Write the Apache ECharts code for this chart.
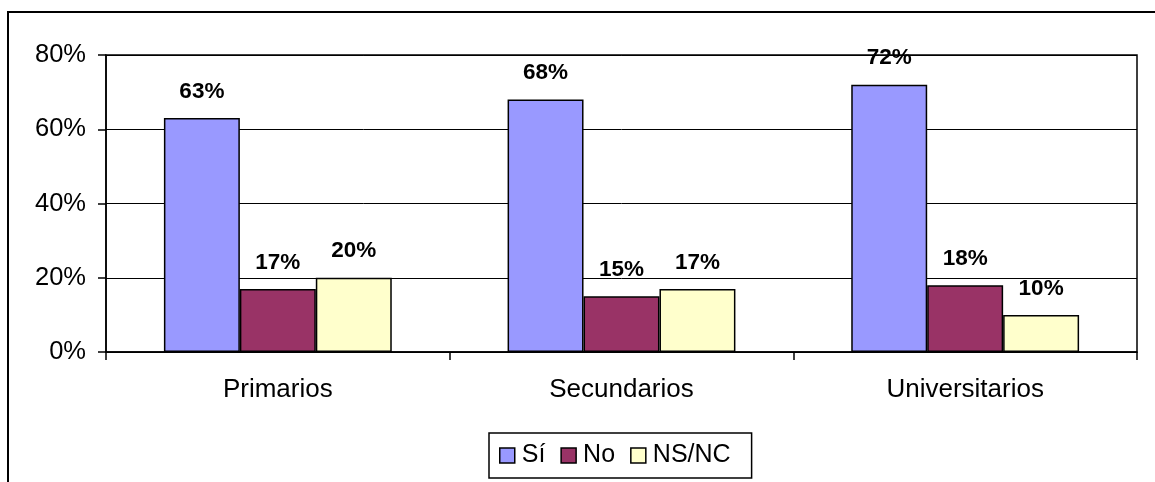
<!DOCTYPE html>
<html>
<head>
<meta charset="utf-8">
<script src="https://cdn.jsdelivr.net/npm/echarts@6/dist/echarts.min.js"></script>
<style>
  html, body { margin: 0; padding: 0; background: #fff; }
  #chart { width: 1155px; height: 482px; }
</style>
</head>
<body>
<div id="chart"></div>
<script>
// Education level categories and the answer shares (percent)
const categories = ['Primarios', 'Secundarios', 'Universitarios'];
const seriesNames = ['Sí', 'No', 'NS/NC'];
const siValues = [63, 68, 72];
const noValues = [17, 15, 18];
const nsncValues = [20, 17, 10];
const yTicks = [0, 20, 40, 60, 80];

const colors = ['#9999FF', '#993366', '#FFFFCC'];
const FONT = '"Liberation Sans", Arial, sans-serif';

const chart = echarts.init(document.getElementById('chart'), null, { renderer: 'canvas' });

function barSeries(name, data, color) {
  return {
    name: name,
    type: 'bar',
    data: data,
    barGap: '0%',
    barCategoryGap: '33.7%',
    itemStyle: { color: color, borderColor: '#000', borderWidth: 1.5 },
    label: {
      show: true,
      position: 'top',
      distance: 15,
      formatter: '{c}%',
      color: '#000',
      fontFamily: FONT,
      fontWeight: 'bold',
      fontSize: 22.5
    }
  };
}

chart.setOption({
  animation: false,
  backgroundColor: '#fff',
  grid: {
    left: 106, right: 18, top: 55, bottom: 130,
    show: true, borderColor: '#000', borderWidth: 1.5, backgroundColor: 'transparent'
  },
  graphic: [{
    type: 'rect',
    shape: { x: 8, y: 12, width: 1300, height: 700 },
    style: { fill: 'none', stroke: '#000', lineWidth: 2 },
    silent: true
  }],
  legend: {
    data: seriesNames,
    left: 489,
    top: 433,
    padding: [9, 21, 9, 10],
    itemGap: 15,
    itemWidth: 15,
    itemHeight: 15,
    icon: 'rect',
    borderColor: '#000',
    borderWidth: 1.5,
    textStyle: { fontFamily: FONT, fontSize: 25, lineHeight: 27, color: '#000', padding: [0, 0, 0, 2] },
    itemStyle: { borderColor: '#000', borderWidth: 1.5 }
  },
  xAxis: {
    type: 'category',
    data: categories,
    axisLine: { lineStyle: { color: '#000', width: 1.5 } },
    axisTick: { show: true, length: 8, lineStyle: { color: '#000', width: 1.5 } },
    axisLabel: { color: '#000', fontFamily: FONT, fontSize: 26, margin: 25 }
  },
  yAxis: {
    type: 'value',
    min: yTicks[0],
    max: yTicks[yTicks.length - 1],
    interval: 20,
    axisLine: { show: true, lineStyle: { color: '#000', width: 1.5 } },
    axisTick: { show: true, length: 8, lineStyle: { color: '#000', width: 1.5 } },
    axisLabel: { color: '#000', fontFamily: FONT, fontSize: 25.5, margin: 20, formatter: '{value}%' },
    splitLine: { show: true, lineStyle: { color: '#000', width: 1 } }
  },
  series: [
    barSeries(seriesNames[0], siValues, colors[0]),
    barSeries(seriesNames[1], noValues, colors[1]),
    barSeries(seriesNames[2], nsncValues, colors[2])
  ]
});
</script>
</body>
</html>
